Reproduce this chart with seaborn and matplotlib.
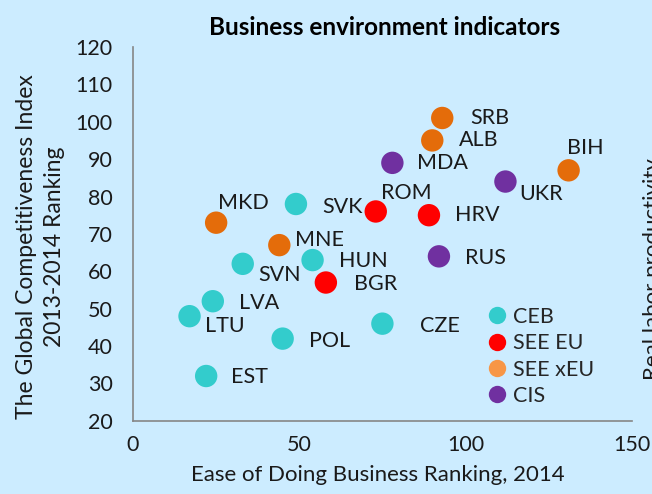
import seaborn as sns
import numpy as np
import matplotlib.pyplot as plt
import pandas as pd

# countries, ease of doing business rank (x), GCI rank (y), region
countries = ["SVK", "SVN", "HUN", "LVA", "LTU", "POL", "CZE", "EST",
             "ROM", "HRV", "BGR",
             "SRB", "ALB", "BIH", "MKD", "MNE",
             "MDA", "UKR", "RUS"]
doing_business = [49, 33, 54, 24, 17, 45, 75, 22,
                  73, 89, 58,
                  93, 90, 131, 25, 44,
                  78, 112, 92]
gci_rank = [78, 62, 63, 52, 48, 42, 46, 32,
            76, 75, 57,
            101, 95, 87, 73, 67,
            89, 84, 64]
region = ["CEB"] * 8 + ["SEE EU"] * 3 + ["SEE xEU"] * 5 + ["CIS"] * 3

groups = ["CEB", "SEE EU", "SEE xEU", "CIS"]
point_colors = ["#33CCCC", "#FF0000", "#E46C0A", "#7030A0"]
legend_colors = ["#33CCCC", "#FF0000", "#F79646", "#7030A0"]

# label offsets in points (dx, dy)
offsets = {"SVK": (19, -2), "SVN": (11, -8), "HUN": (19, -1), "LVA": (19, -1),
           "LTU": (11, -7), "POL": (19, -2), "CZE": (27, -2), "EST": (18, -1),
           "ROM": (4, 13), "HRV": (19, 0), "BGR": (20, -1),
           "SRB": (20, 0), "ALB": (19, 0), "BIH": (-1, 16), "MKD": (1, 14),
           "MNE": (11, 4), "MDA": (18, 0), "UKR": (10, -9), "RUS": (19, -1)}

df = pd.DataFrame({"country": countries, "x": doing_business,
                   "y": gci_rank, "region": region})

bg = "#CCECFF"
txt = "#1a1a1a"
sns.set_style("white")
plt.rcParams["font.family"] = ["Lato", "DejaVu Sans"]

fig = plt.figure(figsize=(6.52, 4.94), dpi=100, facecolor=bg)
ax = fig.add_axes([0.204, 0.148, 0.765, 0.757])
ax.set_facecolor(bg)

sns.scatterplot(data=df, x="x", y="y", hue="region", hue_order=groups,
                palette=point_colors, s=260, edgecolor="none", ax=ax,
                legend=False)

for c, xv, yv in zip(countries, doing_business, gci_rank):
    dx, dy = offsets[c]
    ax.annotate(c, (xv, yv), xytext=(dx, dy), textcoords="offset points",
                ha="left", va="center", fontsize=15.5, color=txt)

ax.set_xlim(0, 150)
ax.set_ylim(20, 120)
ax.set_xticks([0, 50, 100, 150])
ax.set_yticks(range(20, 121, 10))
ax.tick_params(axis="both", direction="out", length=5.5, width=1.2,
               color="#868686", labelsize=15.5, labelcolor=txt)
ax.tick_params(axis="x", pad=5)
ax.tick_params(axis="y", pad=9)
for side in ["top", "right"]:
    ax.spines[side].set_visible(False)
for side in ["left", "bottom"]:
    ax.spines[side].set_color("#868686")
    ax.spines[side].set_linewidth(1.2)

ax.set_xlabel("")
ax.set_ylabel("")
fig.text(0.58, 0.038, "Ease of Doing Business Ranking, 2014", ha="center",
         va="center", fontsize=16, color=txt)
fig.text(0.062, 0.5, "The Global Competitiveness Index\n2013-2014 Ranking",
         rotation=90, ha="center", va="center", multialignment="center",
         fontsize=16.5, color=txt, linespacing=1.45)
fig.text(0.59, 0.945, "Business environment indicators", ha="center",
         va="center", fontsize=17.5, fontweight="bold", color="black")
# partly cut off at the right edge, as in the source
fig.text(0.986, 0.23, "Real labor productivity", rotation=90, ha="left",
         va="bottom", fontsize=16, color=txt)

handles = [plt.Line2D([], [], marker="o", linestyle="none", markersize=12.5,
                      markerfacecolor=col, markeredgecolor="none")
           for col in legend_colors]
ax.legend(handles, groups, loc="lower left", bbox_to_anchor=(0.67, -0.012),
          frameon=False, fontsize=15.5, handletextpad=0.25, labelspacing=0.3,
          handlelength=1.0)

fig.savefig("out.png", dpi=100, facecolor=bg)
